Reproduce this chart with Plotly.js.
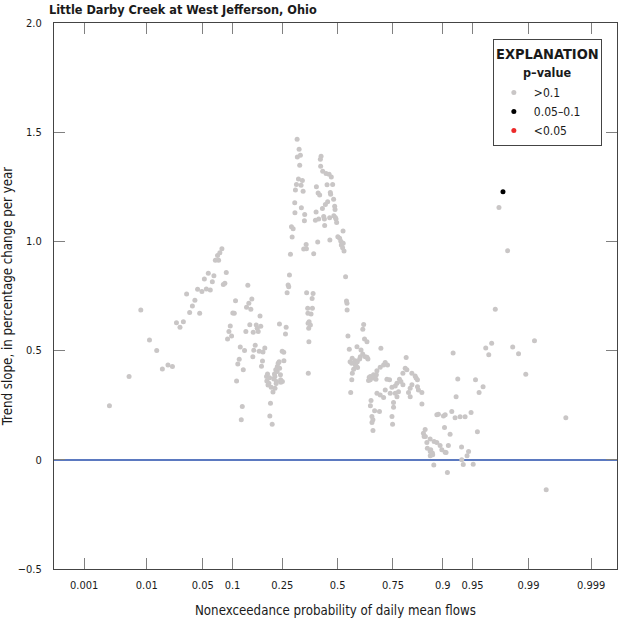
<!DOCTYPE html>
<html>
<head>
<meta charset="utf-8">
<script src="https://cdn.plot.ly/plotly-3.0.1.min.js"></script>
<style>html,body{margin:0;padding:0;background:#fff;}#chart{width:623px;height:621px;}</style>
</head>
<body>
<div id="chart"></div>
<script>
// Nonexceedance probability (x) and trend slope, % change per year (y)
// p-value > 0.1
const grayP = [
.0027,.0055,.0082,.0109,.0137,.0163,.0193,.0220,.0247,.0273,
.0300,.0328,.0356,.0383,.0409,.0439,.0463,.0490,.0521,.0547,
.0574,.0603,.0633,.0657,.0680,.0716,.0734,.0755,.0791,.0817,
.0846,.0873,.0898,.0925,.0953,.0980,.1006,.1038,.1066,.1090,
.1118,.1151,.1176,.1200,.1225,.1250,.1282,.1316,.1333,.1368,
.1395,.1421,.1450,.1478,.1506,.1517,.1534,.1575,.1604,.1634,
.1665,.1695,.1720,.1744,.1766,.1798,.1814,.1873,.1930,.1940,
.1963,.1980,.2008,.2032,.2042,.2065,.2089,.2124,.2153,.2182,
.2207,.2225,.2220,.2254,.2268,.2279,.2291,.2305,.2312,.2342,
.2379,.2390,.2397,.2429,.2436,.2444,.2495,.2502,.2556,.2563,
.2624,.2651,.2690,.2730,.2755,.2784,.2826,.2867,.2937,.2896,
.3005,.3013,.3034,.3078,.3107,.3116,.3164,.3193,.3219,.3249,
.3279,.3292,.3336,.3369,.3396,.3427,.3440,.3505,.3518,.3527,
.3576,.3585,.3594,.3603,.3621,.3630,.3639,.3699,.3730,.3779,
.3792,.3824,.3852,.3932,.3964,.3978,.4040,.4059,.4087,.4133,
.4166,.4200,.4180,.4278,.4264,.4325,.4358,.4372,.4406,.4439,
.4487,.4516,.4585,.4613,.4623,.4645,.4660,.4693,.4757,.4805,
.4815,.4856,.4874,.4888,.4922,.4951,.5010,.5097,.5155,.5180,
.5242,.5263,.5270,.5311,.5386,.5430,.5454,.5460,.5500,.5565,
.5604,.5633,.5680,.5685,.5705,.5710,.5773,.5851,.5855,.5896,
.5933,.5950,.5960,.6057,.6122,.6090,.6200,.6205,.6245,.6285,
.6319,.6398,.6400,.6440,.6469,.6500,.6547,.6550,.6580,.6552,
.6620,.6622,.6665,.6667,.6693,.6695,.6740,.6800,.6815,.6840,
.6842,.6950,.6981,.6983,.7010,.7123,.7125,.7190,.7192,.7261,
.7285,.7366,.7392,.7460,.7462,.7485,.7521,.7523,.7587,.7589,
.7651,.7653,.7710,.7746,.7797,.7869,.7870,.7950,.7983,.8007,
.8062,.8117,.8118,.8173,.8175,.8277,.8307,.8347,.8348,.8377,
.8478,.8479,.8522,.8542,.8570,.8575,.8617,.8630,.8703,.8705,
.8718,.8706,.8760,.8768,.8795,.8802,.8867,.8868,.8904,.8942,
.8980,.9015,.9037,.9050,.9051,.9069,.9096,.9115,.9148,.9180,
.9204,.9239,.9257,.9285,.9323,.9346,.9349,.9372,.9399,.9427,
.9448,.9481,.9508,.9536,.9558,.9577,.9619,.9645,.9673,.9698,
.9727,.9754,.9809,.9836,.9863,.9891,.9918,.9945,.9973
];
const grayTrend = [
.247,.381,.686,.549,.500,.416,.434,.427,.628,.607,
.632,.759,.674,.704,.730,.781,.671,.771,.828,.782,
.854,.777,.815,.843,.914,.936,.914,.948,.966,.803,
.808,.858,.553,.587,.613,.567,.672,.671,.728,.361,
.439,.460,.517,.183,.244,.412,.501,.587,.698,.799,
.717,.618,.689,.736,.472,.584,.502,.524,.617,.602,
.588,.497,.658,.612,.428,.452,.494,.512,.381,.361,
.393,.343,.351,.376,.201,.259,.332,.163,.310,.370,
.393,.328,.381,.412,.349,.358,.415,.404,.427,.442,
.449,.622,.419,.389,.366,.355,.497,.358,.492,.454,
.576,.607,.765,.800,.792,.846,.941,1.067,1.058,1.020,
1.177,1.131,1.235,1.261,1.468,1.387,1.286,1.422,1.349,1.395,
1.257,1.154,1.279,1.230,.965,1.094,1.123,.986,.966,.765,
.694,.671,.625,.396,.602,.541,.632,.617,.668,.739,
.694,.762,.943,1.097,1.135,1.250,.997,1.222,1.102,1.212,
1.376,1.390,1.344,1.321,1.151,1.114,1.102,1.073,1.169,1.311,
1.259,1.181,1.308,1.108,1.006,1.224,1.216,1.295,1.260,1.193,
1.117,1.161,1.146,1.110,1.102,1.086,1.021,1.014,1.001,.983,
.971,1.048,.991,.956,.838,.727,.717,.686,.567,.506,
.449,.308,.442,.366,.465,.396,.415,.454,.434,.430,
.518,.449,.423,.462,.503,.472,.485,.598,.620,.553,
.472,.541,.470,.462,.363,.378,.366,.381,.271,.247,
.198,.171,.183,.134,.389,.374,.225,.369,.389,.408,
.305,.221,.424,.297,.511,.434,.285,.445,.320,.369,
.434,.366,.305,.332,.198,.163,.262,.241,.338,.305,
.351,.289,.312,.369,.358,.396,.344,.419,.468,.412,
.308,.328,.289,.396,.344,.384,.374,.366,.335,.320,
.308,.255,.122,.107,.139,.107,.079,.053,.095,.038,
.046,.018,.031,.023,-.024,.084,.079,.206,.209,.065,
.046,.201,.148,.035,.206,.033,-.058,.065,.117,.221,
.489,.192,.289,.370,.197,.059,0,-.021,.197,.018,
.038,.217,-.020,.366,.129,.308,.335,.512,.481,.534,
.689,1.155,.957,.517,.486,.392,.545,-.137,.193
];
// p-value 0.05-0.1
const blackP = [.9781];
const blackTrend = [1.227];
// p-value < 0.05 (none on this chart)
const redP = [];
const redTrend = [];

const tickProbs = [0.001, 0.01, 0.05, 0.1, 0.25, 0.5, 0.75, 0.9, 0.95, 0.99, 0.999];
const tickLabels = ['0.001','0.01','0.05','0.1','0.25','0.5','0.75','0.9','0.95','0.99','0.999'];
const yTicks = [-0.5, 0, 0.5, 1.0, 1.5, 2.0];
const yTickLabels = ['\u22120.5','0','0.5','1.0','1.5','2.0'];

// inverse standard normal CDF (normal probability scale)
function probit(p){
  const a=[-3.969683028665376e+01,2.209460984245205e+02,-2.759285104469687e+02,1.383577518672690e+02,-3.066479806614716e+01,2.506628277459239e+00];
  const b=[-5.447609879822406e+01,1.615858368580409e+02,-1.556989798598866e+02,6.680131188771972e+01,-1.328068155288572e+01];
  const c=[-7.784894002430293e-03,-3.223964580411365e-01,-2.400758277161838e+00,-2.549732539343734e+00,4.374664141464968e+00,2.938163982698783e+00];
  const d=[7.784695709041462e-03,3.224671290700398e-01,2.445134137142996e+00,3.754408661907416e+00];
  const pl=0.02425; let q,r;
  if(p<pl){q=Math.sqrt(-2*Math.log(p));return (((((c[0]*q+c[1])*q+c[2])*q+c[3])*q+c[4])*q+c[5])/((((d[0]*q+d[1])*q+d[2])*q+d[3])*q+1);}
  if(p<=1-pl){q=p-0.5;r=q*q;return (((((a[0]*r+a[1])*r+a[2])*r+a[3])*r+a[4])*r+a[5])*q/(((((b[0]*r+b[1])*r+b[2])*r+b[3])*r+b[4])*r+1);}
  q=Math.sqrt(-2*Math.log(1-p));
  return -(((((c[0]*q+c[1])*q+c[2])*q+c[3])*q+c[4])*q+c[5])/((((d[0]*q+d[1])*q+d[2])*q+d[3])*q+1);
}

const FONT = '"DejaVu Sans Condensed", "Liberation Sans Narrow", sans-serif';
const INK = '#1a1a1a';

function mk(ps, ts, name, color){
  // an empty class keeps one blank placeholder so that its legend entry is still drawn
  const xs = ps.length ? ps.map(probit) : [null];
  const ys = ps.length ? ts : [null];
  return {
    type:'scatter', mode:'markers', name:name,
    x: xs, y: ys, customdata: ps.length ? ps : [null],
    hovertemplate:'p=%{customdata}<br>trend=%{y}<extra></extra>',
    marker:{color:color, size:5, line:{width:0}}
  };
}

const traces = [
  mk(grayP, grayTrend, '&gt;0.1', '#c9c6c6'),
  mk(blackP, blackTrend, '0.05\u20130.1', '#000000'),
  mk(redP, redTrend, '&lt;0.05', '#ec2a2a')
];

// legend centre (paper units)
const LEG_X = 0.8763;

const layout = {
  width:623, height:621,
  margin:{l:54, r:6, t:23, b:52, pad:0},
  paper_bgcolor:'#ffffff', plot_bgcolor:'#ffffff',
  font:{family:FONT, size:12, color:INK},
  showlegend:true,
  title:{text:'<b>Little Darby Creek at West Jefferson, Ohio</b>', x:49/623, xanchor:'left', xref:'container',
         y:1-10/621, yref:'container', yanchor:'middle', font:{family:FONT, size:12.6, color:INK}},
  xaxis:{
    range:[-3.458, 3.406], tickmode:'array', tickvals:tickProbs.map(probit), ticktext:tickLabels,
    ticks:'inside', ticklen:11, tickwidth:1, tickcolor:'#808080',
    showline:true, linecolor:'#444444', linewidth:1, mirror:'ticks',
    showgrid:false, zeroline:false, ticklabelstandoff:6,
    tickfont:{family:FONT, size:11, color:INK},
    title:{text:'Nonexceedance probability of daily mean flows', font:{family:FONT, size:13.2, color:INK}, standoff:14}
  },
  yaxis:{
    range:[-0.5, 2.0], tickmode:'array', tickvals:yTicks, ticktext:yTickLabels,
    ticks:'inside', ticklen:11, tickwidth:1, tickcolor:'#808080',
    showline:true, linecolor:'#444444', linewidth:1, mirror:'ticks',
    showgrid:false, zeroline:true, zerolinecolor:'#5b79c0', zerolinewidth:1.5, ticklabelstandoff:9,
    tickfont:{family:FONT, size:11, color:INK},
    title:{text:'Trend slope, in percentage change per year', font:{family:FONT, size:13.2, color:INK}, standoff:12}
  },
  legend:{
    x:LEG_X, xanchor:'center', y:0.970, yanchor:'top',
    bgcolor:'#ffffff', bordercolor:'#444444', borderwidth:1,
    font:{family:FONT, size:12, color:INK},
    itemwidth:30, tracegroupgap:0,
    title:{text:'<b>EXPLANATION</b><br>&nbsp;', side:'top center',
           font:{family:FONT, size:14.5, color:INK}}
  },
  annotations:[
    {text:'<b>p\u2013value</b>', xref:'paper', yref:'paper', x:LEG_X, y:(569.3-72.7)/546.6,
     xanchor:'center', yanchor:'middle', showarrow:false, font:{family:FONT, size:12.5, color:INK}}
  ]
};

Plotly.newPlot('chart', traces, layout, {displayModeBar:false, staticPlot:true});
</script>
</body>
</html>
